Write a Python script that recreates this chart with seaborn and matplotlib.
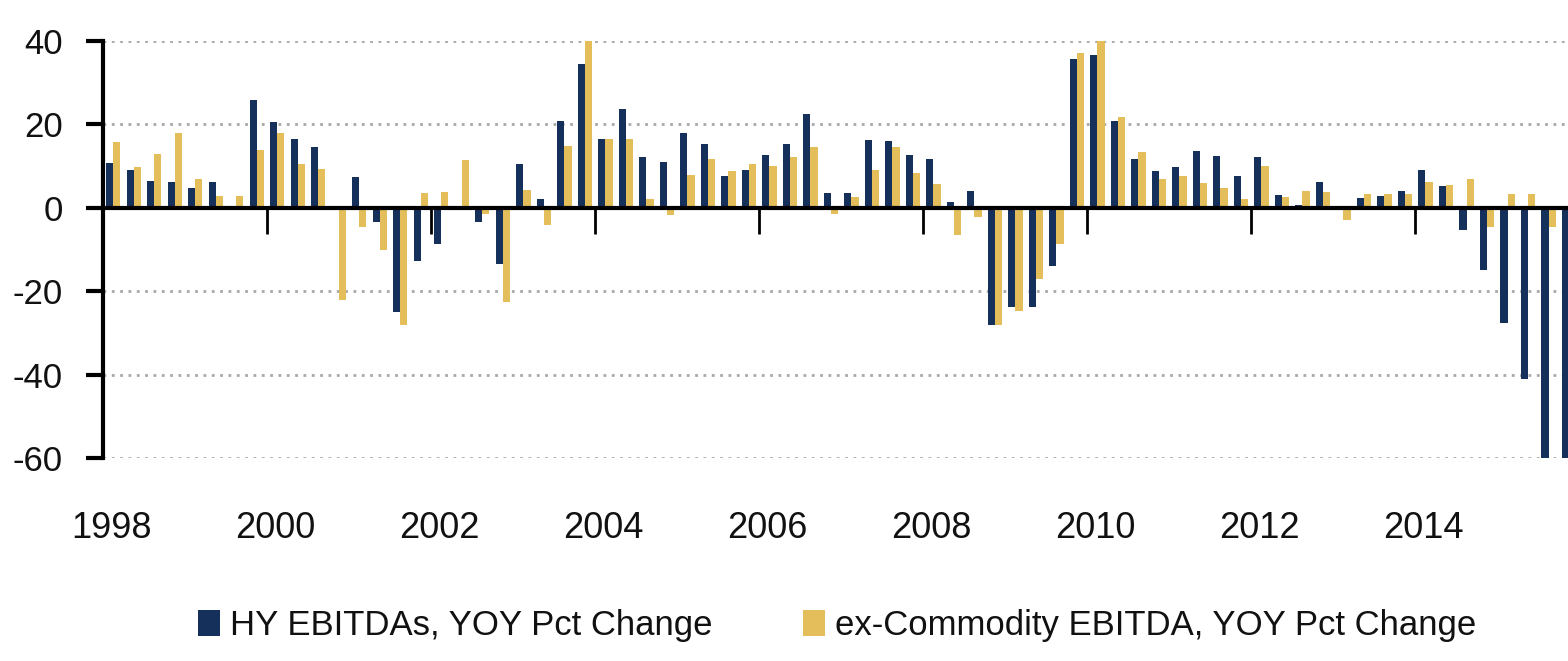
import matplotlib
matplotlib.use("Agg")
import matplotlib.pyplot as plt
import pandas as pd
import seaborn as sns

# ---------------- data ----------------
years = list(range(1998, 2016))
quarters = [f"{y}Q{q}" for y in years for q in range(1, 5)]

hy_ebitda = [
    10.8, 9.0, 6.4, 6.2,      # 1998
    4.8, 6.1, 0.5, 25.8,      # 1999
    20.6, 16.4, 14.6, 0.0,    # 2000
    7.4, -3.4, -25.0, -12.7,  # 2001
    -8.7, 0.0, -3.4, -13.4,   # 2002
    10.4, 2.1, 20.8, 34.6,    # 2003
    16.5, 23.6, 12.1, 11.0,   # 2004
    18.0, 15.3, 7.6, 9.0,     # 2005
    12.6, 15.3, 22.6, 3.6,    # 2006
    3.6, 16.3, 16.1, 12.6,    # 2007
    11.8, 1.4, 4.1, -28.2,    # 2008
    -23.8, -23.9, -14.0, 35.6,  # 2009
    36.6, 20.8, 11.6, 8.9,    # 2010
    9.7, 13.7, 12.4, 7.6,     # 2011
    12.2, 3.0, 0.6, 6.1,      # 2012
    0.3, 2.4, 2.9, 4.1,       # 2013
    9.0, 5.2, -5.4, -14.8,    # 2014
    -27.6, -41.0, -62.0, -66.0,  # 2015
]
ex_commodity = [
    15.8, 9.8, 13.0, 18.0,
    6.8, 2.8, 2.9, 13.8,
    18.0, 10.5, 9.4, -22.0,
    -4.6, -10.2, -28.2, 3.6,
    3.8, 11.4, -1.5, -22.6,
    4.2, -4.2, 14.8, 40.5,
    16.6, 16.6, 2.1, -1.8,
    7.8, 11.8, 8.9, 10.5,
    10.1, 12.1, 14.6, -1.5,
    2.6, 9.0, 14.6, 8.4,
    5.6, -6.6, -2.2, -28.0,
    -24.7, -17.0, -8.7, 37.2,
    40.5, 21.8, 13.3, 7.0,
    7.6, 6.0, 4.8, 2.2,
    10.1, 2.6, 4.1, 3.8,
    -3.0, 3.4, 3.4, 3.4,
    6.1, 5.4, 7.0, -4.6,
    3.4, 3.4, -4.7, -3.0,
]
series_names = ["HY EBITDAs, YOY Pct Change", "ex-Commodity EBITDA, YOY Pct Change"]
year_labels = ["1998", "2000", "2002", "2004", "2006", "2008", "2010", "2012", "2014"]
y_ticks = [-60, -40, -20, 0, 20, 40]

navy = "#16305c"
gold = "#e3be5a"

df = pd.DataFrame({
    "quarter": quarters * 2,
    "value": hy_ebitda + ex_commodity,
    "series": [series_names[0]] * len(quarters) + [series_names[1]] * len(quarters),
})

# ---------------- style ----------------
sns.set_theme(style="white")
plt.rcParams["font.family"] = ["Liberation Sans", "DejaVu Sans"]
plt.rcParams["axes.unicode_minus"] = False

W, H = 1568, 661
fig = plt.figure(figsize=(W / 100, H / 100), dpi=100)
ax = fig.add_axes([103 / W, 1 - 458 / H, (W - 103) / W, (458 - 41) / H])

sns.barplot(data=df, x="quarter", y="value", hue="series", order=quarters,
            hue_order=series_names, palette=[navy, gold], width=0.7, gap=0,
            errorbar=None, saturation=1, linewidth=0, ax=ax)

ax.set_xlim(-0.5, 70.95)
ax.set_ylim(-60, 40)
ax.set_xlabel("")
ax.set_ylabel("")

# y axis
ax.set_yticks(y_ticks)
ax.tick_params(axis="y", length=12, width=3, pad=17, labelsize=25,
               color="black", labelcolor="#111111", left=True)
ax.set_axisbelow(True)
ax.grid(axis="y", linestyle=(0, (1, 2)), color="#a8a8a8", linewidth=2)
ax.grid(axis="x", visible=False)

for s in ["top", "right"]:
    ax.spines[s].set_visible(False)
ax.spines["left"].set_linewidth(3)
ax.spines["left"].set_color("black")
ax.spines["bottom"].set_position(("data", 0))
ax.spines["bottom"].set_linewidth(3)
ax.spines["bottom"].set_color("black")
ax.spines["bottom"].set_zorder(5)

# year-boundary tick marks on the zero line
boundaries = [7.5 + 8 * k for k in range(8)]
ax.set_xticks(boundaries)
ax.set_xticklabels([])
ax.tick_params(axis="x", length=19, width=2, direction="out", color="black",
               bottom=True, labelbottom=False)

# year labels at the bottom of the plot area
sec = ax.secondary_xaxis("bottom")
sec.set_xticks([8 * k - 0.1 for k in range(len(year_labels))], labels=year_labels)
sec.tick_params(length=0, pad=38, labelsize=26, labelcolor="#111111")
sec.spines["bottom"].set_visible(False)

# legend
handles, labels = ax.get_legend_handles_labels()
if ax.get_legend() is not None:
    ax.get_legend().remove()
fig.legend(handles, labels, loc="center", bbox_to_anchor=(837 / W, 1 - 626 / H),
           ncol=2, frameon=False, fontsize=25, handlelength=0.63, handleheight=0.78,
           handletextpad=0.29, columnspacing=2.6, borderpad=0, borderaxespad=0,
           labelcolor="#111111")

fig.savefig("out.png", dpi=100)
